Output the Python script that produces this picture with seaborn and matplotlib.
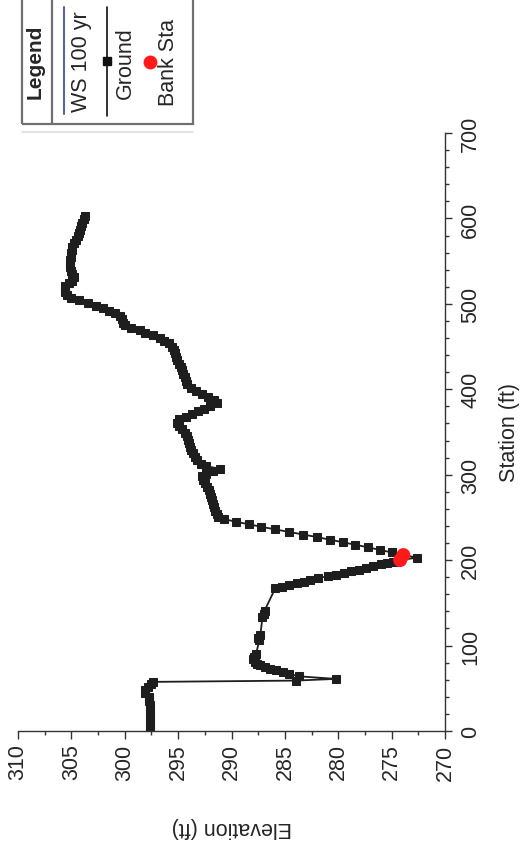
import matplotlib
matplotlib.use("Agg")
import matplotlib.pyplot as plt
from matplotlib.lines import Line2D
from matplotlib.patches import Rectangle
from matplotlib.ticker import MultipleLocator
import pandas as pd
import seaborn as sns

# ground profile (station ft, elevation ft)
station = [0, 5, 10, 15, 20, 25, 30, 35, 40, 45, 48, 52, 55, 57.5, 59, 61, 64, 67, 69,
           71, 73, 75, 77, 79, 81, 84, 87, 90, 106, 109, 112, 133, 137, 141,
           167, 169, 171, 173, 175, 177, 179, 181, 183, 185, 187, 189, 191, 193, 195, 197, 198, 200, 203,
           206, 209, 212, 215, 218, 221, 224, 227, 230, 233, 236, 239, 242, 245, 248, 251,
           254, 258, 262, 266, 270, 274, 278, 282, 286, 290, 294, 298, 301, 304, 307,
           310, 313, 317, 321, 325, 329, 333, 337, 341, 345, 349, 353, 357, 361, 365,
           368, 371, 374, 377, 380, 384, 388, 391, 394, 398, 402, 406, 410, 414, 418,
           422, 426, 430, 434, 438, 442, 446, 450, 454, 457, 460, 463, 466, 469, 472,
           475, 478, 482, 486, 489, 492, 495, 498, 501, 504, 507, 510, 514, 518, 521,
           524, 527, 531, 535, 539, 543, 547, 551, 555, 559, 563, 567, 571, 575, 579,
           583, 587, 591, 595, 599, 603]
elevation = [297.6, 297.6, 297.6, 297.6, 297.6, 297.6, 297.6, 297.7, 297.7, 298.1, 298.1, 297.8, 297.5, 297.4, 284.0, 280.2, 283.7, 284.6, 285.2,
             285.8, 286.4, 286.9, 287.3, 287.6, 287.8, 288.0, 287.9, 287.7, 287.4, 287.5, 287.3, 287.1, 287.0, 286.9,
             285.9, 285.3, 284.6, 283.9, 283.2, 282.6, 281.9, 281.0, 280.2, 279.5, 278.8, 278.1, 277.4, 276.7, 276.0, 275.4, 274.9, 274.2, 272.6,
             273.9, 275.0, 276.1, 277.2, 278.4, 279.6, 280.8, 282.0, 283.3, 284.6, 285.9, 287.2, 288.4, 289.6, 290.7, 291.3,
             291.4, 291.5, 291.6, 291.7, 291.8, 291.9, 292.0, 292.1, 292.3, 292.5, 292.7, 292.8, 292.4, 291.7, 291.1,
             292.4, 292.9, 293.2, 293.4, 293.6, 293.8, 293.9, 294.0, 294.1, 294.2, 294.4, 294.6, 294.9, 295.1, 294.9,
             294.3, 293.7, 293.1, 292.6, 292.0, 291.4, 291.6, 292.2, 292.8, 293.3, 293.8, 294.2, 294.3, 294.4, 294.5,
             294.6, 294.7, 294.9, 295.1, 295.2, 295.3, 295.4, 295.6, 295.9, 296.3, 296.7, 297.4, 298.1, 298.6, 299.4,
             300.0, 300.2, 300.3, 300.4, 300.9, 301.5, 302.0, 302.7, 303.4, 304.3, 305.0, 305.4, 305.6, 305.6, 305.6,
             305.2, 304.9, 304.8, 304.9, 305.0, 305.1, 305.1, 305.1, 305.0, 305.0, 304.9, 304.9, 304.8, 304.6, 304.4,
             304.3, 304.2, 304.1, 304.0, 303.8, 303.7]

bank_station = [200, 206]
bank_elevation = [274.2, 273.9]

elev_ticks = [270, 275, 280, 285, 290, 295, 300, 305, 310]
station_ticks = [0, 100, 200, 300, 400, 500, 600, 700]

W, H = 521, 854


def fx(x):
    return x / W


def fy(y):
    return 1 - y / H


sns.set_style("ticks")
plt.rcParams['font.family'] = ['Liberation Sans', 'DejaVu Sans']

fig = plt.figure(figsize=(W / 100, H / 100), dpi=100)
ax = fig.add_axes([fx(18), fy(732), fx(445) - fx(18), fy(134) - fy(732)])

ground = pd.DataFrame({'Station': station, 'Elevation': elevation})
sns.lineplot(data=ground, x='Elevation', y='Station', sort=False, estimator=None,
             orient='y', color='#1e1e1e', lw=1.3, marker='s', markersize=6.2,
             markeredgecolor='#1e1e1e', ax=ax)
sns.scatterplot(x=bank_elevation, y=bank_station, color='#ff1a1a', s=100,
                edgecolor='none', zorder=5, ax=ax)

# chart is drawn turned a quarter turn: elevation runs right-to-left at the bottom
ax.set_xlim(310, 270)
ax.set_ylim(0, 700)
ax.spines['top'].set_visible(False)
ax.spines['left'].set_visible(False)
ax.spines['right'].set_visible(True)
for s in ['right', 'bottom']:
    ax.spines[s].set_color('#333333')
    ax.spines[s].set_linewidth(1.0)
ax.yaxis.tick_right()

ax.set_xticks(elev_ticks)
ax.set_xticklabels([str(t) for t in elev_ticks], rotation=90)
ax.xaxis.set_minor_locator(MultipleLocator(2.5))
ax.set_yticks(station_ticks)
ax.set_yticklabels([str(t) for t in station_ticks], rotation=90)
ax.yaxis.set_minor_locator(MultipleLocator(20))
for lbl in ax.get_yticklabels():
    lbl.set_va('center')

ax.tick_params(axis='x', which='major', length=6, width=1, pad=3, labelsize=15.5,
               direction='out', color='#333333')
ax.tick_params(axis='x', which='minor', length=3, width=1, color='#333333')
ax.tick_params(axis='y', which='major', length=5, width=1, pad=6, labelsize=15.5,
               direction='out', right=True, left=False, color='#333333')
ax.tick_params(axis='y', which='minor', length=3, width=1, right=True, left=False,
               color='#333333')

ax.set_xlabel('Elevation (ft)', fontsize=15.5, rotation=180)
ax.xaxis.label.set_va('center')
ax.xaxis.set_label_coords(0.5, (732 - 828) / 598)

ax.set_ylabel('Station (ft)', fontsize=15.5)
ax.yaxis.set_label_position('right')
ax.yaxis.label.set_rotation(90)
ax.yaxis.label.set_va('center')
ax.yaxis.label.set_ha('center')
ax.yaxis.set_label_coords((510 - 18) / 427, 0.5)

# legend box, laid out by hand to follow the turned chart
fig.add_artist(Line2D([fx(22), fx(193)], [fy(133), fy(133)], color='#dddddd', lw=1.2))
fig.add_artist(Rectangle((fx(22), fy(125)), fx(193) - fx(22), fy(-10) - fy(125),
                         transform=fig.transFigure, fill=False, ec='#707070', lw=1.6))
fig.add_artist(Line2D([fx(52), fx(52)], [fy(-5), fy(125)], color='#707070', lw=1.6))
fig.text(fx(35), fy(62), 'Legend', rotation=90, ha='center', va='center',
         fontsize=15, fontweight='bold')
fig.add_artist(Line2D([fx(64), fx(64)], [fy(8), fy(115)], color='#5565a5', lw=1.5))
fig.text(fx(82), fy(62), 'WS 100 yr', rotation=90, ha='center', va='center', fontsize=15.5)
fig.add_artist(Line2D([fx(107), fx(107)], [fy(8), fy(117)], color='#111111', lw=1.2))
fig.add_artist(Line2D([fx(107)], [fy(62)], marker='s', ms=5.5, color='#111111', lw=0))
fig.text(fx(125), fy(63), 'Ground', rotation=90, ha='center', va='center', fontsize=15.5)
fig.add_artist(Line2D([fx(150)], [fy(63)], marker='o', ms=10, color='#ff1a1a',
                      mec='none', lw=0))
fig.text(fx(168), fy(63), 'Bank Sta', rotation=90, ha='center', va='center', fontsize=15.5)

fig.savefig('out.png', dpi=100)
